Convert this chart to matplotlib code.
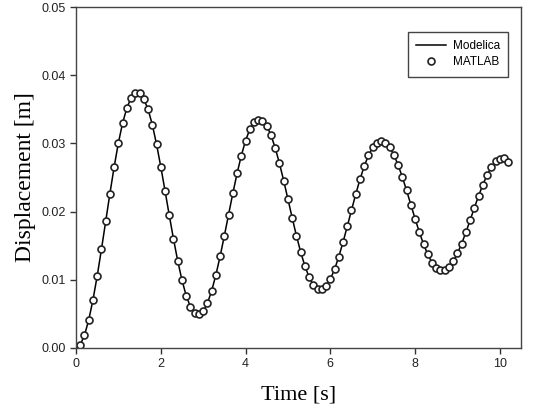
import matplotlib.pyplot as plt

# time [s] and displacement [m]
time = [round(0.1 * i, 1) for i in range(103)]
modelica = [
    0.00000, 0.00048, 0.00187, 0.00410, 0.00705, 0.01056, 0.01446, 0.01855, 0.02265, 0.02655,
    0.03008, 0.03300, 0.03520, 0.03670, 0.03740, 0.03735, 0.03650, 0.03500, 0.03276, 0.02988,
    0.02660, 0.02307, 0.01948, 0.01599, 0.01277, 0.00995, 0.00767, 0.00602, 0.00510, 0.00495,
    0.00540, 0.00655, 0.00837, 0.01070, 0.01344, 0.01645, 0.01957, 0.02267, 0.02559, 0.02820,
    0.03039, 0.03206, 0.03313, 0.03350, 0.03335, 0.03258, 0.03121, 0.02934, 0.02708, 0.02454,
    0.02184, 0.01911, 0.01649, 0.01409, 0.01203, 0.01038, 0.00923, 0.00865, 0.00860, 0.00906,
    0.01006, 0.01153, 0.01338, 0.01551, 0.01782, 0.02020, 0.02254, 0.02472, 0.02665, 0.02824,
    0.02942, 0.03010, 0.03030, 0.03010, 0.02944, 0.02832, 0.02683, 0.02506, 0.02310, 0.02103,
    0.01897, 0.01700, 0.01522, 0.01371, 0.01253, 0.01173, 0.01140, 0.01142, 0.01185, 0.01269,
    0.01387, 0.01532, 0.01697, 0.01875, 0.02056, 0.02232, 0.02395, 0.02537, 0.02652, 0.02735,
    0.02775, 0.02780, 0.02725,
]
matlab = modelica  # both solvers give the same curve

fig = plt.figure(figsize=(5.33, 4.17), dpi=100)
ax = fig.add_axes([0.1426, 0.1655, 0.8349, 0.8177])

ax.plot(time, modelica, color='black', lw=1.1, label='Modelica')
ax.plot(time, matlab, 'o', ms=5, mfc='white', mec='#222222', mew=1.2,
        linestyle='none', label='MATLAB')

ax.set_xlim(0, 10.5)
ax.set_ylim(0, 0.05)
ax.set_xticks([0, 2, 4, 6, 8, 10])
ax.set_yticks([0.00, 0.01, 0.02, 0.03, 0.04, 0.05])
ax.set_yticklabels(['%.2f' % v for v in ax.get_yticks()])
ax.tick_params(direction='out', length=4, width=1, colors='#333333',
               labelsize=9, labelcolor='#222222')
for lab in ax.get_xticklabels() + ax.get_yticklabels():
    lab.set_family('Liberation Sans')
for s in ax.spines.values():
    s.set_color('#444444')
    s.set_linewidth(1.0)

ax.set_xlabel('Time [s]', family='Liberation Serif', fontsize=16, labelpad=11)
ax.set_ylabel('Displacement [m]', family='Liberation Serif', fontsize=17, labelpad=4)

leg = ax.legend(loc='upper right', bbox_to_anchor=(0.971, 0.927), borderaxespad=0,
                fancybox=False, framealpha=1, edgecolor='#444444', handlelength=2.5,
                prop={'family': 'Liberation Sans', 'size': 8.5}, borderpad=0.7,
                labelspacing=0.35, handletextpad=0.6)
leg.get_frame().set_linewidth(1.0)

fig.savefig('out.png')
